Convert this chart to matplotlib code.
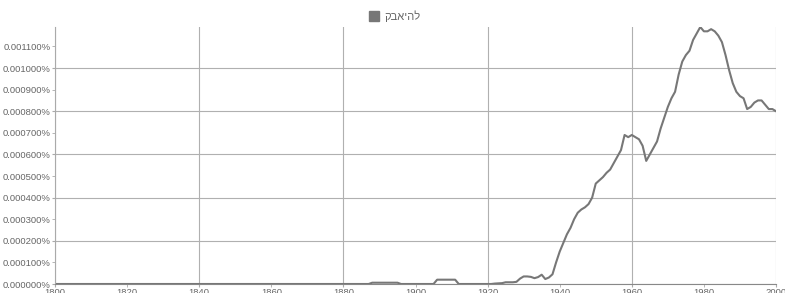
import matplotlib.pyplot as plt
from matplotlib.patches import Patch
from matplotlib.ticker import MultipleLocator, FuncFormatter

plt.rcParams['font.family'] = ['Liberation Sans', 'DejaVu Sans']

# yearly frequency (percent)
years = [1800, 1887, 1888, 1895, 1896, 1905, 1906, 1911, 1912, 1921,
         1922, 1924, 1925, 1926, 1927, 1928, 1929, 1930, 1931, 1932,
         1933, 1934, 1935, 1936, 1937, 1938, 1939, 1940, 1941, 1942,
         1943, 1944, 1945, 1946, 1947, 1948, 1949, 1950, 1951, 1952,
         1953, 1954, 1955, 1956, 1957, 1958, 1959, 1960, 1961, 1962,
         1963, 1964, 1965, 1966, 1967, 1968, 1969, 1970, 1971, 1972,
         1973, 1974, 1975, 1976, 1977, 1978, 1979, 1980, 1981, 1982,
         1983, 1984, 1985, 1986, 1987, 1988, 1989, 1990, 1991, 1992,
         1993, 1994, 1995, 1996, 1997, 1998, 1999, 2000]
values = [0.0, 0.0, 0.000006, 0.000006, 0.0, 0.0, 0.00002, 0.00002, 0.0, 0.0,
          0.000002, 0.000004, 0.000008, 0.000008, 0.000008, 0.000010, 0.000025, 0.000035, 0.000035, 0.000033,
          0.000027, 0.000032, 0.000043, 0.000023, 0.000030, 0.000045, 0.00010, 0.00015, 0.00019, 0.00023,
          0.00026, 0.00030, 0.00033, 0.000345, 0.000355, 0.00037, 0.00040, 0.000465, 0.00048, 0.000495,
          0.000515, 0.00053, 0.00056, 0.00059, 0.00062, 0.00069, 0.00068, 0.00069, 0.00068, 0.00067,
          0.00064, 0.00057, 0.00060, 0.00063, 0.00066, 0.00072, 0.00077, 0.00082, 0.00086, 0.00089,
          0.00097, 0.00103, 0.00106, 0.00108, 0.00113, 0.00116, 0.00119, 0.00117, 0.00117, 0.00118,
          0.00117, 0.00115, 0.00112, 0.00106, 0.00099, 0.00093, 0.00089, 0.00087, 0.00086, 0.00081,
          0.00082, 0.00084, 0.00085, 0.00085, 0.00083, 0.00081, 0.00081, 0.00080]
# the source draws the word left to right, character order as stored
label = 'קבאיהל'

fig = plt.figure(figsize=(7.85, 2.93), dpi=100)
ax = fig.add_axes([55 / 785, 9 / 293, 721 / 785, 257 / 293])

ax.plot(years, values, color='#777777', linewidth=1.5)

ax.set_xlim(1800, 2000)
ax.set_ylim(0, 0.00119)

ax.xaxis.set_major_locator(MultipleLocator(40))
ax.xaxis.set_minor_locator(MultipleLocator(20))
ax.yaxis.set_major_locator(MultipleLocator(0.0002))
ax.yaxis.set_minor_locator(MultipleLocator(0.0001))

yfmt = FuncFormatter(lambda v, p: f'{v:.6f}%')
xfmt = FuncFormatter(lambda v, p: f'{int(round(v))}')
ax.yaxis.set_major_formatter(yfmt)
ax.yaxis.set_minor_formatter(yfmt)
ax.xaxis.set_major_formatter(xfmt)
ax.xaxis.set_minor_formatter(xfmt)

ax.grid(True, which='major', color='#b0b0b0', linewidth=0.8)
ax.set_axisbelow(True)

for which in ('major', 'minor'):
    ax.tick_params(axis='both', which=which, labelsize=6.8, labelcolor='#666666',
                   color='#aaaaaa', length=2, pad=1)

for s in ('top', 'right'):
    ax.spines[s].set_visible(False)
ax.spines['left'].set_color('#aaaaaa')
ax.spines['bottom'].set_color('#888888')

fig.legend(handles=[Patch(facecolor='#777777', edgecolor='#777777')], labels=[label],
           loc='center', bbox_to_anchor=(395 / 785, 1 - 16 / 293), frameon=False,
           fontsize=8, handlelength=0.9, handleheight=0.9, handletextpad=0.5,
           labelcolor='#666666')

fig.savefig('out.png', dpi=100)
